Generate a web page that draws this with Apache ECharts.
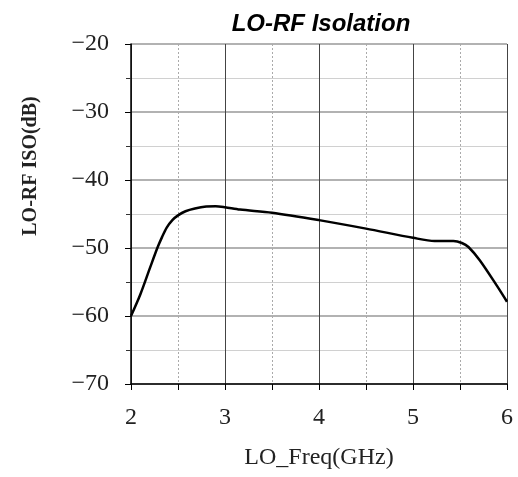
<!DOCTYPE html>
<html>
<head>
<meta charset="utf-8">
<script src="https://cdn.jsdelivr.net/npm/echarts@6/dist/echarts.min.js"></script>
<style>html,body{margin:0;padding:0;background:#fff;}#c{width:518px;height:477px;}</style>
</head>
<body>
<div id="c"></div>
<script>
const titleText = 'LO-RF Isolation';
const xName = 'LO_Freq(GHz)';
const yName = 'LO-RF ISO(dB)';
const freq = [2, 2.1, 2.2, 2.28, 2.33, 2.38, 2.44, 2.5, 2.58, 2.68, 2.8, 2.9, 3.0, 3.16, 3.5, 4.0, 4.5, 5.0, 5.23, 5.43, 5.52, 5.59, 5.71, 5.89, 6.0];
const iso = [-60, -56.8, -53.0, -50.0, -48.4, -47.0, -45.9, -45.2, -44.6, -44.2, -43.9, -43.85, -44.0, -44.35, -44.8, -45.9, -47.15, -48.5, -48.97, -48.97, -49.26, -49.85, -51.8, -55.5, -57.9];
const xTicks = [2, 3, 4, 5, 6];
const yTicks = [-70, -60, -50, -40, -30, -20];

const serif = '"Liberation Serif", "DejaVu Serif", serif';
const chart = echarts.init(document.getElementById('c'), null, {renderer: 'canvas'});
chart.setOption({
  animation: false,
  backgroundColor: '#fff',
  title: {
    text: titleText,
    left: 316, top: 7, textAlign: 'center',
    textStyle: {fontFamily: '"Liberation Sans", Arial, sans-serif', fontWeight: 'bold', fontStyle: 'italic', fontSize: 24, color: '#000'}
  },
  grid: {left: 131, right: 11, top: 44, bottom: 93},
  xAxis: {
    type: 'value', min: xTicks[0], max: xTicks[xTicks.length - 1], interval: 1,
    name: xName, nameLocation: 'middle', nameGap: 62,
    nameTextStyle: {fontFamily: serif, fontSize: 24, color: '#222'},
    axisLine: {show: true, onZero: false, lineStyle: {color: '#000', width: 1.5}},
    axisTick: {show: true, length: 6, lineStyle: {color: '#000'}},
    minorTick: {show: true, splitNumber: 2, length: 6, lineStyle: {color: '#000'}},
    axisLabel: {margin: 22, fontFamily: serif, fontSize: 24, color: '#222'},
    splitLine: {show: true, lineStyle: {color: '#444', width: 1}},
    minorSplitLine: {show: true, lineStyle: {color: '#aaa', width: 1, type: [2, 2]}}
  },
  yAxis: {
    type: 'value', min: yTicks[0], max: yTicks[yTicks.length - 1], interval: 10,
    name: yName, nameLocation: 'middle', nameGap: 90,
    nameTextStyle: {fontFamily: serif, fontSize: 20, fontWeight: 'bold', color: '#222', padding: [0, 0, 0, 96]},
    axisLine: {show: true, onZero: false, lineStyle: {color: '#000', width: 1.5}},
    axisTick: {show: true, length: 6, lineStyle: {color: '#000'}},
    minorTick: {show: true, splitNumber: 2, length: 5, lineStyle: {color: '#333'}},
    axisLabel: {margin: 22, fontFamily: serif, fontSize: 24, color: '#222',
      formatter: v => (v < 0 ? '\u2212' + Math.abs(v) : String(v))},
    splitLine: {show: true, lineStyle: {color: '#999', width: 1.5}},
    minorSplitLine: {show: true, lineStyle: {color: '#d0d0d0', width: 1}}
  },
  series: [{
    type: 'line',
    data: freq.map((f, i) => [f, iso[i]]),
    smooth: 0.3,
    showSymbol: false,
    lineStyle: {color: '#000', width: 2.5},
    z: 5
  }]
});
</script>
</body>
</html>
